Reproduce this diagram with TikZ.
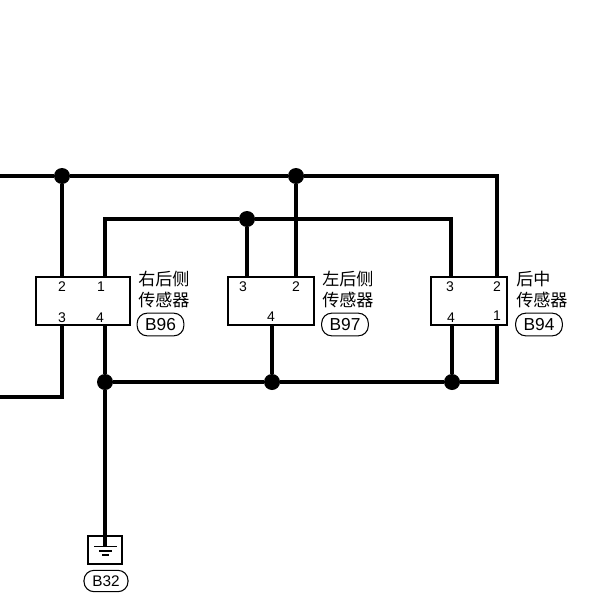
\documentclass[tikz,border=0pt]{standalone}
\usepackage{fontspec}
\setmainfont{Liberation Sans}
\newfontfamily\cjk{Noto Sans CJK SC}
\tikzset{
  wire/.style={line width=2.6pt},
  dot/.style={circle,fill=black,inner sep=0pt,minimum size=12pt},
  sensor/.style={draw,line width=1.5pt,inner sep=0pt,outer sep=0pt,anchor=north west},
  pin/.style={inner sep=0pt,font=\fontsize{10.5}{11}\selectfont},
  caption/.style={inner sep=0pt,anchor=north west,align=left,font=\cjk\fontsize{12.8}{15.75}\selectfont},
  tag/.style={draw,line width=0.8pt,rounded corners=7.5pt,minimum width=35pt,minimum height=17pt,inner sep=0pt,font=\fontsize{13}{14}\selectfont},
}
\begin{document}
\begin{tikzpicture}[x=0.75pt,y=-0.75pt]
        \useasboundingbox (0,0) rectangle (600,603);
        \node[sensor,minimum width=70.5pt,minimum height=36pt] (rightbox) at (36,277) {};
        \node[sensor,minimum width=64.5pt,minimum height=36pt] (leftbox) at (228,277) {};
        \node[sensor,minimum width=57pt,minimum height=36pt] (midbox) at (431,277) {};
        \coordinate (topstart) at (0,176);
        \coordinate (lowstart) at (0,397);
        \node[dot] (topa) at (62,176) {};
        \node[dot] (topb) at (296,176) {};
        \node[dot] (inner) at (247,219) {};
        \node[dot] (gnda) at (105,382) {};
        \node[dot] (gndb) at (272,382) {};
        \node[dot] (gndc) at (452,382) {};
        \coordinate (ra2) at (62,277);
        \coordinate (ra1) at (105,277);
        \coordinate (ra3) at (62,325);
        \coordinate (ra4) at (105,325);
        \coordinate (la3) at (247,277);
        \coordinate (la2) at (296,277);
        \coordinate (la4) at (272,325);
        \coordinate (ma3) at (451,277);
        \coordinate (ma2) at (497,277);
        \coordinate (ma4) at (452,325);
        \coordinate (ma1) at (497,325);
        \node[sensor,minimum width=25.5pt,minimum height=21pt] (earth) at (88,536) {};
        \coordinate (earthend) at (105,546);
        \draw[wire] (topstart) -- (topa) -- (topb) -- (497,176) -- (ma2);
        \draw[wire] (topa) -- (ra2);
        \draw[wire] (topb) -- (la2);
        \draw[wire] (ra1) -- (105,219) -- (inner) -- (451,219) -- (ma3);
        \draw[wire] (inner) -- (la3);
        \draw[wire] (ra3) -- (62,397) -- (lowstart);
        \draw[wire] (ra4) -- (gnda) -- (earthend);
        \draw[wire] (gnda) -- (gndb) -- (gndc) -- (497,382) -- (ma1);
        \draw[wire] (gndb) -- (la4);
        \draw[wire] (gndc) -- (ma4);
        \draw[line width=1pt] (94,546.5) -- (117,546.5) (99,551) -- (112,551) (102,555) -- (109,555);
        \node[pin] (r2) at (62,287) {2};
        \node[pin] (r1) at (101,287) {1};
        \node[pin] (r3) at (62,318) {3};
        \node[pin] (r4) at (100,318) {4};
        \node[pin] (l3) at (243,287) {3};
        \node[pin] (l2) at (296,287) {2};
        \node[pin] (l4) at (271,317) {4};
        \node[pin] (m3) at (450,287) {3};
        \node[pin] (m2) at (497,287) {2};
        \node[pin] (m4) at (451,318) {4};
        \node[pin] (m1) at (497,316) {1};
        \node[caption] (rightname) at (138,271) {右后侧\\传感器};
        \node[caption] (leftname) at (322,271) {左后侧\\传感器};
        \node[caption] (midname) at (516,271) {后中\\传感器};
        \node[tag] (b96) at (160.5,324.5) {B96};
        \node[tag] (b97) at (345,324.5) {B97};
        \node[tag] (b94) at (539,324.5) {B94};
        \node[tag,minimum width=33pt,minimum height=16pt,font=\fontsize{11.5}{12}\selectfont] (b32) at (106,581) {B32};
      \end{tikzpicture}
\end{document}
